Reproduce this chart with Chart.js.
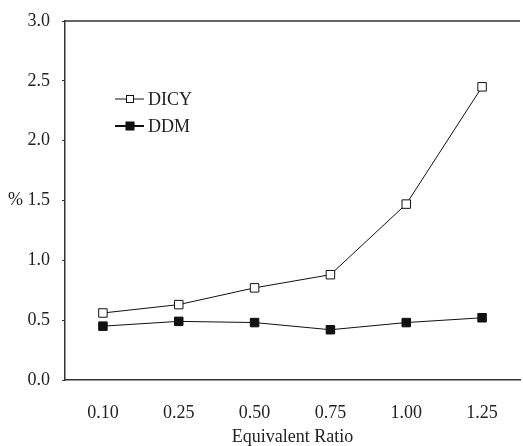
<!DOCTYPE html>
<html>
<head>
<meta charset="utf-8">
<script src="https://cdn.jsdelivr.net/npm/chart.js@4"></script>
<style>
  html, body { margin: 0; padding: 0; background: #fff; overflow: hidden; }
  #wrap { width: 527px; height: 446px; }
</style>
</head>
<body>
<div id="wrap"><canvas id="ratioChart"></canvas></div>
<script>
//-----------------------------------------------------------------------------
// Chart values.
//-----------------------------------------------------------------------------

const ratios = ["0.10", "0.25", "0.50", "0.75", "1.00", "1.25"];
const dicy = [0.56, 0.63, 0.77, 0.88, 1.47, 2.45];
const ddm = [0.45, 0.49, 0.48, 0.42, 0.48, 0.52];
const yTicks = [0, 0.5, 1.0, 1.5, 2.0, 2.5, 3.0];

const serif = "'Liberation Serif', 'Times New Roman', serif";

//-----------------------------------------------------------------------------
// Top frame line and the hand placed legend inside the plot.
//-----------------------------------------------------------------------------

const framePlugin = {
  id: "frame",
  afterDraw(chart) {
    const { ctx, chartArea } = chart;
    ctx.save();
    ctx.strokeStyle = "#333";
    ctx.lineWidth = 1.5;
    ctx.beginPath();
    ctx.moveTo(chartArea.left, chartArea.top);
    ctx.lineTo(chartArea.right, chartArea.top);
    ctx.stroke();

    const x = chartArea.left + 50;
    const rows = [chartArea.top + 78, chartArea.top + 105];
    chart.data.datasets.forEach((ds, i) => {
      const y = rows[i];
      const s = i === 0 ? 7 : 8;
      ctx.strokeStyle = "#111";
      ctx.lineWidth = i === 0 ? 1 : 2;
      ctx.beginPath();
      ctx.moveTo(x, y);
      ctx.lineTo(x + 29, y);
      ctx.stroke();
      ctx.fillStyle = ds.pointBackgroundColor;
      ctx.lineWidth = 1;
      ctx.fillRect(x + 15 - s / 2, y - s / 2, s, s);
      ctx.strokeRect(x + 15 - s / 2, y - s / 2, s, s);
      ctx.fillStyle = "#222";
      ctx.font = "18px " + serif;
      ctx.textBaseline = "middle";
      ctx.fillText(ds.label, x + 33, y + 1);
    });
    ctx.restore();
  },
};

const ctx = document.getElementById("ratioChart").getContext("2d");

new Chart(ctx, {
  type: "line",
  data: {
    labels: ratios,
    datasets: [
      {
        label: "DICY",
        data: dicy,
        borderColor: "#111",
        borderWidth: 1,
        pointStyle: "rect",
        pointRadius: 6,
        pointBackgroundColor: "#fff",
        pointBorderColor: "#111",
        pointBorderWidth: 1,
        tension: 0,
      },
      {
        label: "DDM",
        data: ddm,
        borderColor: "#111",
        borderWidth: 1,
        pointStyle: "rect",
        pointRadius: 6,
        pointBackgroundColor: "#111",
        pointBorderColor: "#111",
        pointBorderWidth: 1,
        tension: 0,
      },
    ],
  },
  options: {
    responsive: true,
    maintainAspectRatio: false,
    animation: false,
    layout: { padding: { top: 20, right: 0, left: 0, bottom: 0 } },
    plugins: {
      legend: { display: false },
      tooltip: { enabled: false },
    },
    scales: {
      x: {
        type: "category",
        offset: true,
        grid: { display: false, drawTicks: false },
        border: { display: true, color: "#333", width: 1.5 },
        ticks: {
          color: "#222",
          font: { family: serif, size: 18 },
          padding: 22,
          maxRotation: 0,
        },
        title: {
          display: true,
          text: "Equivalent Ratio",
          color: "#222",
          font: { family: serif, size: 18, lineHeight: 1 },
          padding: { top: 4, bottom: 0 },
        },
        afterFit(scale) {
          scale.height = 66;
        },
      },
      y: {
        min: 0,
        max: 3,
        afterBuildTicks(scale) {
          scale.ticks = yTicks.map((v) => ({ value: v }));
        },
        grid: {
          drawOnChartArea: false,
          drawTicks: true,
          tickLength: 3,
          color: "#333",
        },
        border: { display: true, color: "#333", width: 1.5 },
        ticks: {
          color: "#222",
          font: { family: serif, size: 18, lineHeight: 1 },
          padding: 12,
          callback: (v) => (v === 1.5 ? "% 1.5" : v.toFixed(1)),
        },
        afterFit(scale) {
          scale.width = 65;
        },
      },
    },
  },
  plugins: [framePlugin],
});
</script>
</body>
</html>
